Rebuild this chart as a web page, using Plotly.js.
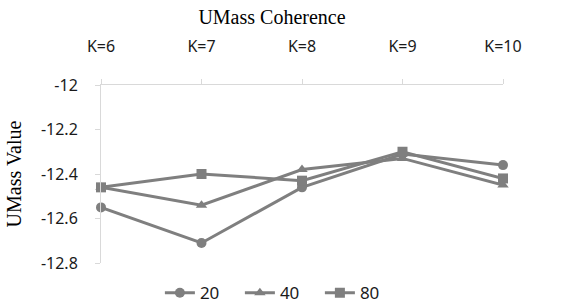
<!DOCTYPE html>
<html>
<head>
<meta charset="utf-8">
<script src="https://cdn.plot.ly/plotly-3.0.1.min.js"></script>
<style>html,body{margin:0;padding:0;background:#fff;}#chart{width:569px;height:304px;}</style>
</head>
<body>
<div id="chart"></div>
<script>
const categories = ["K=6", "K=7", "K=8", "K=9", "K=10"];
const seriesNames = ["20", "40", "80"];
const values20 = [-12.55, -12.71, -12.46, -12.31, -12.36];
const values40 = [-12.46, -12.54, -12.38, -12.33, -12.45];
const values80 = [-12.46, -12.40, -12.43, -12.30, -12.42];
const yTickVals = [-12, -12.2, -12.4, -12.6, -12.8];
const yTickText = ["-12", "-12.2", "-12.4", "-12.6", "-12.8"];

const gray = "#7f7f7f";
const symbols = ["circle", "triangle-up", "square"];
const allValues = [values20, values40, values80];

const traces = allValues.map((v, i) => ({
  x: categories,
  y: v,
  name: seriesNames[i],
  type: "scatter",
  mode: "lines+markers",
  cliponaxis: false,
  line: {color: gray, width: 3},
  marker: {color: gray, symbol: symbols[i], size: 10}
}));

const tickFont = {family: "Noto Sans, sans-serif", size: 16, color: "#1a1a1a"};

const layout = {
  width: 569, height: 304,
  margin: {l: 101, r: 66, t: 85, b: 41, pad: 0, autoexpand: false},
  paper_bgcolor: "#fff", plot_bgcolor: "#fff",
  title: {text: "UMass Coherence", x: 0.478, xanchor: "center", y: 0.945, yanchor: "middle",
          font: {family: "Liberation Serif, serif", size: 20, color: "#000"}},
  xaxis: {
    type: "category", side: "top", range: [0, 4],
    showline: true, linecolor: "#d9d9d9", linewidth: 1,
    ticks: "outside", ticklen: 5, tickcolor: "#d9d9d9",
    ticklabelstandoff: 21,
    showgrid: false, zeroline: false, tickfont: tickFont
  },
  yaxis: {
    range: [-12.8, -12], tickvals: yTickVals, ticktext: yTickText,
    showline: true, linecolor: "#d9d9d9", linewidth: 1,
    ticks: "outside", ticklen: 5, tickcolor: "#d9d9d9",
    ticklabelstandoff: 14,
    showgrid: false, zeroline: false, tickfont: tickFont,
    title: {text: "UMass Value", standoff: 13, font: {family: "Liberation Serif, serif", size: 20, color: "#000"}}
  },
  showlegend: true,
  legend: {orientation: "h", x: 0.445, xanchor: "center", y: -0.17, yanchor: "middle",
           entrywidth: 35, entrywidthmode: "pixels",
           font: {family: "Noto Sans, sans-serif", size: 17, color: "#1a1a1a"}, bgcolor: "rgba(0,0,0,0)"}
};

Plotly.newPlot("chart", traces, layout, {displayModeBar: false, staticPlot: true});
</script>
</body>
</html>
